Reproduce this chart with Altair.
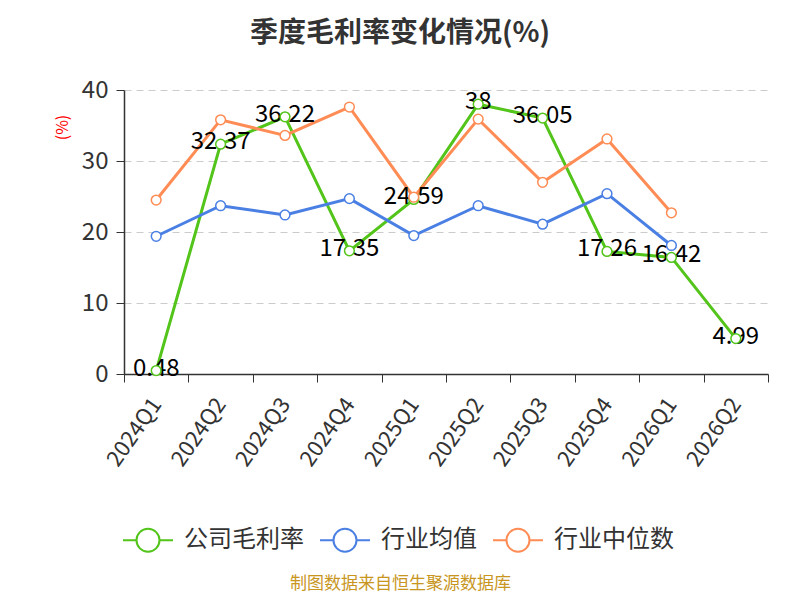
import altair as alt
import pandas as pd

quarters = ["2024Q1", "2024Q2", "2024Q3", "2024Q4", "2025Q1",
            "2025Q2", "2025Q3", "2025Q4", "2026Q1", "2026Q2"]
company = [0.48, 32.37, 36.22, 17.35, 24.59, 38, 36.05, 17.26, 16.42, 4.99]
ind_mean = [19.4, 23.7, 22.4, 24.7, 19.5, 23.7, 21.1, 25.4, 18.1, None]
ind_median = [24.5, 35.8, 33.6, 37.6, 24.9, 35.9, 27.0, 33.1, 22.7, None]

series_names = ["公司毛利率", "行业均值", "行业中位数"]
series_colors = ["#52C41A", "#4A7FE3", "#FF8C55"]

rows = []
for name, vals in zip(series_names, [company, ind_mean, ind_median]):
    for q, v in zip(quarters, vals):
        if v is not None:
            rows.append({"q": q, "v": v, "s": name})
df = pd.DataFrame(rows)
df_lab = df[df["s"] == "公司毛利率"].copy()

FONT = "Noto Sans CJK SC"
LEG_PATH = "M-1,0H-0.46M0.46,0H1M-0.46,0A0.46,0.46 0 1,1 0.46,0A0.46,0.46 0 1,1 -0.46,0Z"

x_enc = alt.X(
    "q:N", sort=quarters, bandPosition=0.5,
    scale=alt.Scale(type="band", paddingInner=0, paddingOuter=0, domain=quarters),
    axis=alt.Axis(
        tickBand="extent", labelAngle=-55, labelAlign="right", labelBaseline="middle",
        labelFontSize=22, labelColor="#333333", labelFont=FONT, labelPadding=18,
        tickSize=8, tickColor="#333333", domainColor="#333333", domainWidth=1.5,
        grid=False,
        title="制图数据来自恒生聚源数据库", titleColor="#C8961E", titleFontSize=17,
        titleFont=FONT, titleFontWeight="normal", titleX=276, titleY=209,
        titleAngle=0, titleAlign="center", titleBaseline="middle",
    ),
)
y_enc = alt.Y(
    "v:Q",
    scale=alt.Scale(domain=[0, 40], nice=False, zero=True),
    axis=alt.Axis(
        values=[0, 10, 20, 30, 40], labelFontSize=24, labelColor="#333333",
        labelFont=FONT, labelPadding=8, tickSize=8, tickColor="#333333",
        domainColor="#333333", domainWidth=1.5,
        grid=True, gridColor="#CCCCCC", gridDash=[7, 5], gridWidth=1.2,
        title="(%)", titleColor="#FF0000", titleFontSize=16, titleFont=FONT,
        titleFontWeight="normal", titleX=-62, titleY=37, titleAngle=-90,
        titleAlign="center", titleBaseline="middle",
    ),
)
color_enc = alt.Color(
    "s:N", sort=series_names,
    scale=alt.Scale(domain=series_names, range=series_colors),
    legend=alt.Legend(
        title=None, orient="none", direction="horizontal", legendX=-2, legendY=424,
        symbolType=LEG_PATH, symbolSize=2500, symbolStrokeWidth=2,
        symbolFillColor="white", labelFontSize=24, labelFont=FONT,
        labelColor="#333333", labelOffset=10, columnPadding=12, padding=0,
    ),
)

base = alt.Chart(df).encode(x=x_enc, y=y_enc, color=color_enc)
lines = base.mark_line(strokeWidth=3)
points = base.mark_point(shape="circle", filled=False, fill="white", fillOpacity=1,
                         size=95, strokeWidth=1.5, opacity=1)
labels = alt.Chart(df_lab).mark_text(
    fontSize=24, font=FONT, color="#000000", dy=-2, baseline="middle", align="center"
).encode(x=alt.X("q:N", sort=quarters, bandPosition=0.5), y="v:Q", text=alt.Text("v:Q"))

chart = alt.layer(lines, labels, points).properties(
    width=644, height=284,
    autosize="none",
    padding={"left": 116, "top": 82, "right": 24, "bottom": 218},
    title=alt.TitleParams(
        "季度毛利率变化情况(%)", fontSize=28, font=FONT, fontWeight="bold",
        color="#333333", anchor="middle", dx=-46, offset=30,
    ),
).configure_view(stroke=None)

chart.save("out.html", embed_options={"renderer": "svg", "actions": False})
